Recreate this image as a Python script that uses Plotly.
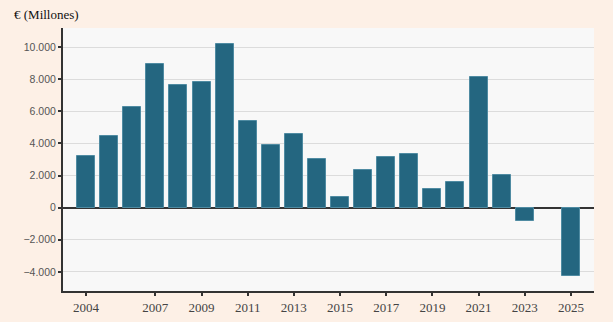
import plotly.graph_objects as go

years = list(range(2004, 2026))
values = [3200, 4480, 6260, 8940, 7630, 7820, 10200, 5410, 3920, 4600, 3050, 640,
          2370, 3170, 3360, 1160, 1600, 8150, 2030, -850, 0, -4270]
x_ticks = [2004, 2007, 2009, 2011, 2013, 2015, 2017, 2019, 2021, 2023, 2025]
y_ticks = [-4000, -2000, 0, 2000, 4000, 6000, 8000, 10000]

fig = go.Figure()
fig.add_trace(go.Bar(
    x=years, y=values, width=0.78,
    marker=dict(color="#246680",
                line=dict(color="#4f8ba2", width=[1 if v != 0 else 0 for v in values])),
    hoverinfo="x+y",
))

fig.update_layout(
    width=613, height=322,
    margin=dict(l=63, r=19, t=28, b=31, autoexpand=False),
    paper_bgcolor="#fdf0e6",
    plot_bgcolor="#f8f8f8",
    separators=",.",
    showlegend=False,
    bargap=0,
    annotations=[dict(text="€ (Millones)", xref="paper", yref="paper",
                      x=0, y=1, xanchor="left", yanchor="bottom",
                      xshift=-51, yshift=4, showarrow=False,
                      font=dict(family="Liberation Serif, Times New Roman, serif", size=13, color="#111"))],
)
fig.update_xaxes(
    range=[2003, 2026], tickvals=x_ticks, ticktext=[str(v) for v in x_ticks],
    showgrid=False, showline=True, linecolor="#333", linewidth=2,
    ticks="outside", ticklen=3, tickcolor="#333", tickwidth=2,
    tickfont=dict(family="Liberation Serif, Times New Roman, serif", size=13, color="#444"),
    zeroline=False, automargin=False,
)
fig.update_yaxes(
    range=[-5190, 11185], tickvals=y_ticks, tickformat=",d",
    showgrid=True, gridcolor="#dcdcdc", gridwidth=1,
    showline=True, linecolor="#333", linewidth=2,
    ticks="outside", ticklen=3, tickcolor="#333", tickwidth=2,
    tickfont=dict(family="Liberation Sans, Arial, sans-serif", size=10.5, color="#555"),
    zeroline=True, zerolinecolor="#333", zerolinewidth=2, automargin=False,
)

fig.write_html("out.html")
